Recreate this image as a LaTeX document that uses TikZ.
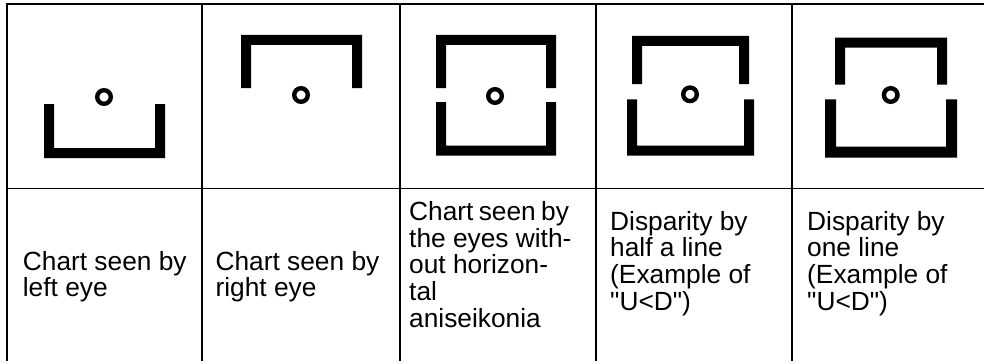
\documentclass[tikz,border=0pt]{standalone}
\usepackage{fontspec}
\setmainfont{Liberation Sans}[Ligatures=TeXOff]
\newcommand\TopBracket[5]{% x1 x2 ytop ybottom thickness
  \fill[black] (#1,#3) -- (#2,#3) -- (#2,#4) -- ({#2-#5},#4) -- ({#2-#5},{#3+#5})
    -- ({#1+#5},{#3+#5}) -- ({#1+#5},#4) -- (#1,#4) -- cycle;}
\newcommand\BotBracket[5]{% x1 x2 ytop ybottom thickness
  \fill[black] (#1,#3) -- ({#1+#5},#3) -- ({#1+#5},{#4-#5}) -- ({#2-#5},{#4-#5})
    -- ({#2-#5},#3) -- (#2,#3) -- (#2,#4) -- (#1,#4) -- cycle;}
\begin{document}
\begin{tikzpicture}[x=1pt,y=-1pt,
  rule/.style={line width=1.8pt, black},
  ring/.style={draw=black, line width=4.4pt},
  lbl/.style={anchor=base west, inner sep=0pt, font=\fontsize{26.3}{26.7}\selectfont}]
\useasboundingbox (0,0) rectangle (984,361);
\clip (0,0) rectangle (984,361);
\fill[white] (0,0) rectangle (984,361);
% table rules
\draw[rule] (6.6,361) -- (6.6,3.8) -- (984,3.8);
\draw[rule] (6.6,188.4) -- (984,188.4);
\foreach \x in {202,400,596,792} \draw[rule] (\x,3.8) -- (\x,361);
% charts
\BotBracket{44}{165}{104}{158}{10}
\draw[ring] (104,97) circle[radius=6.8];
\TopBracket{241}{362}{35}{88}{10}
\draw[ring] (301,95) circle[radius=6.8];
\TopBracket{436}{556}{35}{88}{10}
\BotBracket{436}{556}{102}{155.7}{10}
\draw[ring] (495,96) circle[radius=6.8];
\TopBracket{632}{749}{36}{84}{10}
\BotBracket{627}{754}{99.3}{155.7}{10}
\draw[ring] (690,94.3) circle[radius=6.8];
\TopBracket{835}{947}{37.7}{84.7}{10}
\BotBracket{825}{957}{99.3}{157.7}{11}
\draw[ring] (890.7,95) circle[radius=6.8];
% labels
\node[lbl] (a1) at (22.7,270) {Chart seen by};
\node[lbl] (a2) at (22.7,296.7) {left eye};
\node[lbl] (b1) at (215.4,270) {Chart seen by};
\node[lbl] (b2) at (215.4,296.7) {right eye};
\node[lbl] (c1) at (409,220.5) {Chart\hspace{-2pt} seen\hspace{-2pt} by};
\node[lbl] (c2) at (409,247.2) {the eyes with-};
\node[lbl] (c3) at (409,273.9) {out horizon-};
\node[lbl] (c4) at (409,300.6) {tal};
\node[lbl] (c5) at (409,327.3) {aniseikonia};
\node[lbl] (d1) at (610,230) {Disparity by};
\node[lbl] (d2) at (610,256.7) {half a line};
\node[lbl] (d3) at (610,283.4) {(Example of};
\node[lbl] (d4) at (610,310.1) {"U<D")};
\node[lbl] (e1) at (807,230) {Disparity by};
\node[lbl] (e2) at (807,256.7) {one line};
\node[lbl] (e3) at (807,283.4) {(Example of};
\node[lbl] (e4) at (807,310.1) {"U<D")};
\end{tikzpicture}
\end{document}
